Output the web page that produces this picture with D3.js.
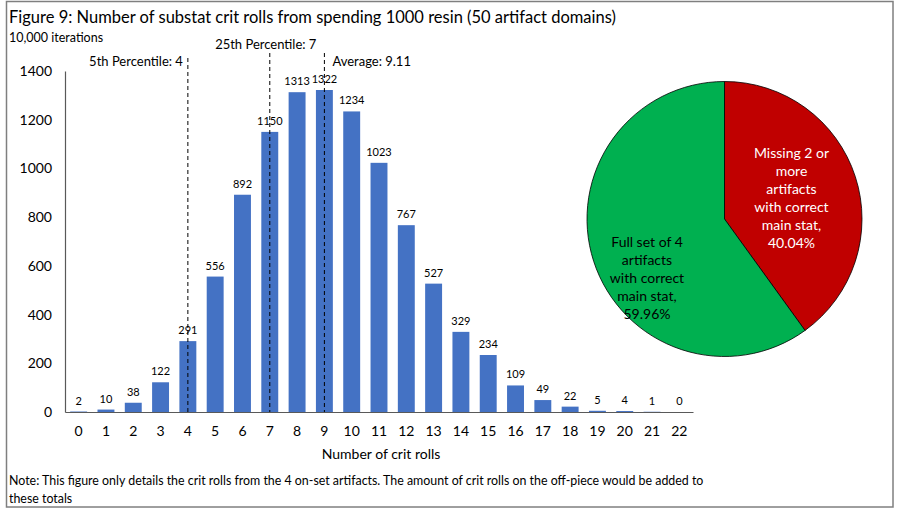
<!DOCTYPE html>
<html><head><meta charset="utf-8">
<script src="https://cdn.jsdelivr.net/npm/d3@7"></script>
<style>body{margin:0;background:#fff}svg{display:block;font-family:Lato,"Open Sans",sans-serif}</style>
</head><body><svg id="c" width="900" height="515"></svg>
<script>
const categories = d3.range(0, 23);
const counts = [2,10,38,122,291,556,892,1150,1313,1322,1234,1023,767,527,329,234,109,49,22,5,4,1,0];
const yTicks = [0,200,400,600,800,1000,1200,1400];
const markerPos = [4, 7, 9];
const markerLabels = ["5th Percentile: 4", "25th Percentile: 7", "Average: 9.11"];
const pieLabels = [["Missing 2 or","more","artifacts","with correct","main stat,","40.04%"],["Full set of 4","artifacts","with correct","main stat,","59.96%"]];
const pieValues = [40.04, 59.96];
const pieColors = ["#C00000", "#00B050"];
const title = "Figure 9: Number of substat crit rolls from spending 1000 resin (50 artifact domains)";
const subtitle = "10,000 iterations";
const xTitle = "Number of crit rolls";
const note = ["Note: This figure only details the crit rolls from the 4 on-set artifacts. The amount of crit rolls on the off-piece would be added to","these totals"];

const svg = d3.select("#c");
// frame
svg.append("rect").attr("x",6.5).attr("y",1.5).attr("width",886.5).attr("height",505.5)
  .attr("fill","#fff").attr("stroke","#7f7f7f").attr("stroke-width",1.5);

svg.append("text").attr("x",9).attr("y",23).attr("font-size",16.5).attr("fill","#000").text(title);
svg.append("text").attr("x",9).attr("y",42).attr("font-size",12.5).attr("fill","#000").text(subtitle);

const x = d3.scaleBand().domain(categories).range([65, 693]).paddingInner(0.38).paddingOuter(0.19);
const y = d3.scaleLinear().domain([0,1400]).range([412, 71]);
const xc = v => x(Math.floor(v)) + x.bandwidth()/2 + (v - Math.floor(v)) * x.step();

// bars
svg.append("g").selectAll("rect").data(counts).join("rect")
  .attr("x",(d,i)=>x(categories[i])).attr("width",x.bandwidth())
  .attr("y",d=>y(d)).attr("height",d=>y(0)-y(d)).attr("fill","#4472C4");

// y axis
const ya = svg.append("g").attr("transform","translate(65,0)").call(d3.axisLeft(y).tickValues(yTicks).tickSize(0).tickPadding(13).tickFormat(d3.format("d")));
ya.select(".domain").attr("stroke","#595959").attr("stroke-width",1.2);
ya.selectAll("text").attr("font-size",14).attr("font-family","Lato").attr("fill","#000");

// x axis
const xa = svg.append("g").attr("transform","translate(0,412)").call(d3.axisBottom(x).tickSize(0).tickPadding(14));
xa.select(".domain").attr("stroke","#595959").attr("stroke-width",1.2);
xa.selectAll("text").attr("font-size",14).attr("font-family","Lato").attr("fill","#000");

svg.append("text").attr("x",381).attr("y",459).attr("text-anchor","middle").attr("font-size",14).text(xTitle);

// data labels
svg.append("g").selectAll("text").data(counts).join("text")
  .attr("x",(d,i)=>x(categories[i])+x.bandwidth()/2).attr("y",d=>y(d)-7)
  .attr("text-anchor","middle").attr("font-size",11).attr("fill","#000").text(d=>d);

// marker lines
const mTop = [58, 53, 53];
svg.append("g").selectAll("line").data(markerPos).join("line")
  .attr("x1",d=>xc(d)).attr("x2",d=>xc(d)).attr("y1",(d,i)=>mTop[i]).attr("y2",412)
  .attr("stroke","#000").attr("stroke-width",1).attr("stroke-dasharray","4,3");
svg.append("text").attr("x",xc(markerPos[0])-5).attr("y",66).attr("text-anchor","end").attr("font-size",13).text(markerLabels[0]);
svg.append("text").attr("x",xc(markerPos[1])-4).attr("y",49).attr("text-anchor","middle").attr("font-size",13).text(markerLabels[1]);
svg.append("text").attr("x",xc(markerPos[2])+8).attr("y",66).attr("text-anchor","start").attr("font-size",13).text(markerLabels[2]);

// pie
const cx = 724.5, cy = 219, r = 137.5;
const arcs = d3.pie().sort(null)(pieValues);
const arc = d3.arc().innerRadius(0).outerRadius(r);
const pg = svg.append("g").attr("transform",`translate(${cx},${cy})`);
pg.selectAll("path").data(arcs).join("path").attr("d",arc)
  .attr("fill",(d,i)=>pieColors[i]).attr("stroke","#000").attr("stroke-width",0.8);
const labelPos = [[67, -66], [-77.5, 23]];
const labelColor = ["#fff", "#000"];
pieLabels.forEach((lines,i)=>{
  const t = pg.append("text").attr("text-anchor","middle").attr("font-size",14).attr("fill",labelColor[i]);
  lines.forEach((l,j)=>t.append("tspan").attr("x",labelPos[i][0]).attr("y",labelPos[i][1]+j*18+5).text(l));
});

// note
note.forEach((l,i)=>svg.append("text").attr("x",9).attr("y",485+i*17.5).attr("font-size",12.4).attr("fill","#000").text(l));
</script></body></html>
